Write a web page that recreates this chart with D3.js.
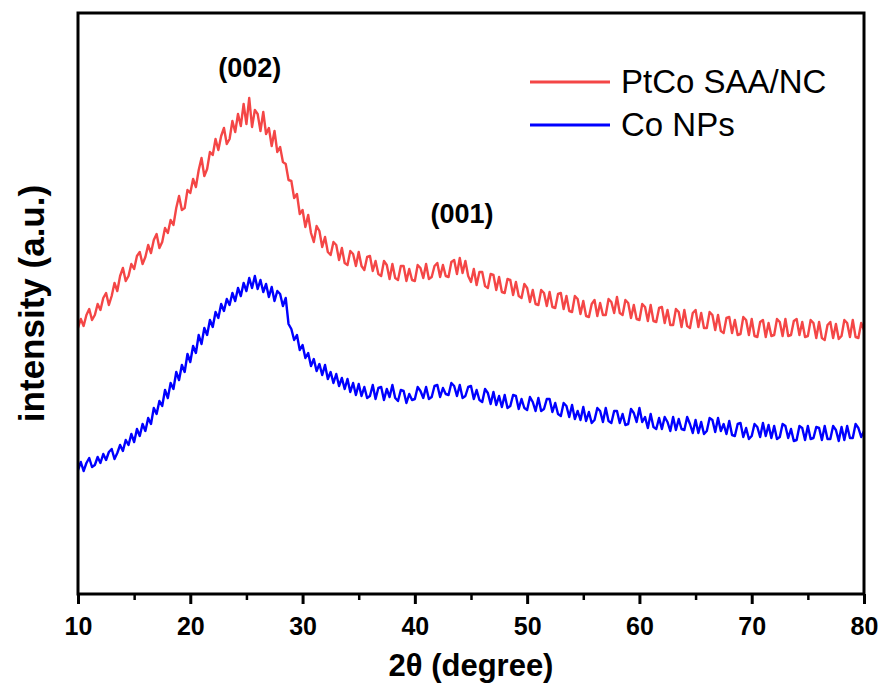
<!DOCTYPE html>
<html lang="en">
	<head>
		<meta charset="utf-8">
		<title>XRD PtCo SAA/NC vs Co NPs</title>
		<script type="text/javascript" src="https://cdn.jsdelivr.net/npm/d3@7"></script>
		<style type="text/css">
			body { margin: 0; background: #fff; }
			svg text { font-family: Arial, "Liberation Sans", sans-serif; fill: #000; }
		</style>
	</head>
	<body>
		<script type="text/javascript">

			//Width and height
			var w = 885;
			var h = 693;

			//Scan grid: 2theta from 10 to 80, step 0.25
			var thetaStart = 10;
			var thetaStep = 0.25;

			//Intensities (a.u.), 4 points per degree
			var ptcoValues = [
				266, 275, 268, 279,  285, 274, 279, 290,  284, 296, 301, 289,  298, 311, 303, 318,
				326, 313, 318, 330,  325, 338, 342, 330,  337, 349, 341, 354,  360, 346, 352, 366,
				361, 374, 369, 386,  398, 384, 386, 404,  401, 415, 407, 424,  436, 418, 425, 442,
				439, 455, 444, 458,  466, 450, 455, 473,  462, 480, 468, 490,  470, 496, 467, 484,
				480, 463, 482, 460,  466, 448, 463, 442,  447, 432, 430, 414,  413, 396, 400, 380,
				384, 367, 379, 361,  352, 368, 363, 347,  357, 342, 339, 352,  349, 334, 346, 331,
				329, 343, 340, 328,  342, 328, 324, 337,  338, 323, 333, 320,  318, 333, 329, 315,
				330, 316, 314, 328,  328, 313, 325, 314,  313, 329, 326, 316,  330, 315, 317, 328,
				331, 317, 329, 318,  317, 332, 334, 320,  336, 321, 333, 318,  312, 325, 309, 322,
				322, 308, 306, 320,  319, 304, 317, 302,  301, 315, 314, 299,  312, 298, 296, 310,
				306, 292, 304, 290,  289, 304, 301, 288,  302, 287, 286, 300,  301, 285, 298, 283,
				282, 298, 295, 280,  293, 278, 277, 290,  294, 278, 291, 279,  279, 295, 292, 281,
				297, 281, 279, 294,  291, 276, 289, 275,  274, 290, 287, 273,  289, 273, 272, 286,
				287, 271, 284, 269,  269, 285, 282, 267,  284, 268, 266, 281,  284, 267, 281, 266,
				266, 282, 279, 264,  279, 263, 261, 276,  277, 261, 274, 259,  260, 277, 274, 259,
				275, 258, 257, 272,  274, 257, 271, 258,  259, 275, 272, 258,  275, 258, 259, 273,
				275, 259, 272, 257,  258, 274, 271, 256,  272, 256, 254, 269,  272, 256, 270, 255,
				258, 274, 271, 257,  274, 257, 256, 271,  264
			];

			var coValues = [
				124, 132, 123, 131,  136, 127, 129, 137,  131, 140, 134, 142,  145, 135, 141, 149,
				143, 154, 149, 160,  152, 165, 158, 170,  163, 176, 170, 186,  180, 193, 188, 204,
				196, 211, 205, 222,  214, 229, 222, 240,  232, 248, 241, 259,  250, 266, 259, 274,
				267, 282, 276, 290,  283, 295, 289, 301,  293, 306, 298, 311,  303, 316, 306, 318,
				305, 314, 302, 310,  297, 307, 293, 303,  300, 288, 296, 270,  265, 254, 259, 244,
				249, 236, 241, 228,  235, 223, 230, 219,  229, 215, 222, 211,  220, 208, 216, 205,
				215, 202, 211, 199,  210, 198, 207, 196,  198, 209, 195, 206,  207, 194, 205, 197,
				209, 196, 193, 204,  203, 191, 200, 194,  195, 207, 203, 196,  207, 195, 197, 208,
				209, 197, 206, 200,  199, 211, 208, 198,  209, 196, 198, 207,  208, 195, 204, 194,
				192, 205, 201, 190,  202, 189, 198, 187,  199, 186, 188, 199,  198, 185, 195, 186,
				184, 197, 192, 183,  196, 183, 185, 195,  195, 182, 191, 180,  178, 191, 188, 177,
				189, 175, 183, 174,  187, 173, 182, 171,  174, 186, 183, 172,  186, 173, 171, 183,
				183, 171, 180, 169,  170, 185, 181, 172,  186, 172, 177, 166,  180, 167, 165, 176,
				165, 177, 172, 163,  177, 164, 175, 165,  164, 177, 170, 161,  174, 161, 172, 160,
				163, 176, 174, 162,  176, 163, 170, 160,  173, 159, 158, 170,  171, 157, 166, 155,
				158, 170, 167, 157,  171, 158, 169, 156,  168, 155, 157, 170,  168, 156, 165, 153,
				154, 168, 166, 154,  168, 155, 156, 167,  166, 154, 168, 155,  155, 168, 164, 153,
				167, 154, 168, 156,  156, 170, 166, 157,  163
			];

			var seriesNames = ["PtCo SAA/NC", "Co NPs"];
			var seriesColors = ["#f44646", "#0000ff"];

			var xTicks = [10, 20, 30, 40, 50, 60, 70, 80];
			var xMinorTicks = [15, 25, 35, 45, 55, 65, 75];

			//Peak labels
			var peakLabels = ["(002)", "(001)"];
			var peakTheta = [25.3, 44.2];
			var peakIntensity = [517, 371];

			//Plot box (names avoid window.top)
			var plotLeft = 78, plotRight = 864, plotTop = 13, plotBottom = 594;

			var xScale = d3.scaleLinear()
							.domain([10, 80])
							.range([plotLeft, plotRight]);

			var yScale = d3.scaleLinear()
							.domain([0, 581])
							.range([plotBottom, plotTop]);

			//Create SVG element
			var svg = d3.select("body")
						.append("svg")
						.attr("width", w)
						.attr("height", h);

			var line = d3.line()
						.x(function(d, i) { return xScale(thetaStart + i * thetaStep); })
						.y(function(d) { return yScale(d); });

			//Curves
			[ptcoValues, coValues].forEach(function(vals, k) {
				svg.append("path")
				   .datum(vals)
				   .attr("d", line)
				   .attr("fill", "none")
				   .attr("stroke", seriesColors[k])
				   .attr("stroke-width", 2.4)
				   .attr("stroke-linejoin", "round");
			});

			//Minor ticks
			svg.append("g")
			   .attr("transform", "translate(0," + plotBottom + ")")
			   .call(d3.axisBottom(xScale).tickValues(xMinorTicks).tickSize(6).tickSizeOuter(0).tickFormat(""))
			   .call(function(g) {
			   		g.select(".domain").remove();
			   		g.selectAll("line").attr("stroke-width", 2.5);
			   });

			//Major ticks + labels
			svg.append("g")
			   .attr("transform", "translate(0," + plotBottom + ")")
			   .call(d3.axisBottom(xScale).tickValues(xTicks).tickSize(10).tickSizeOuter(0).tickPadding(13))
			   .call(function(g) {
			   		g.select(".domain").remove();
			   		g.selectAll("line").attr("stroke-width", 3);
			   		g.selectAll("text")
			   		 .style("font-size", "25px")
			   		 .style("font-weight", "bold")
			   		 .attr("fill", "#000");
			   });

			//Frame
			svg.append("rect")
			   .attr("x", plotLeft)
			   .attr("y", plotTop)
			   .attr("width", plotRight - plotLeft)
			   .attr("height", plotBottom - plotTop)
			   .attr("fill", "none")
			   .attr("stroke", "#000")
			   .attr("stroke-width", 3);

			//Axis titles
			svg.append("text")
			   .attr("x", (plotLeft + plotRight) / 2)
			   .attr("y", 676)
			   .attr("text-anchor", "middle")
			   .attr("font-size", "31px")
			   .attr("font-weight", "bold")
			   .text("2\u03b8 (degree)");

			svg.append("text")
			   .attr("transform", "translate(44," + ((plotTop + plotBottom) / 2) + ") rotate(-90)")
			   .attr("text-anchor", "middle")
			   .attr("font-size", "35px")
			   .attr("font-weight", "bold")
			   .text("intensity (a.u.)");

			//Peak labels
			svg.selectAll("text.peak")
			   .data(peakLabels)
			   .enter()
			   .append("text")
			   .attr("class", "peak")
			   .attr("x", function(d, i) { return xScale(peakTheta[i]); })
			   .attr("y", function(d, i) { return yScale(peakIntensity[i]); })
			   .attr("text-anchor", "middle")
			   .attr("font-size", "27px")
			   .attr("font-weight", "bold")
			   .text(function(d) { return d; });

			//Legend
			var legend = svg.append("g");
			seriesNames.forEach(function(name, k) {
				var ly = 82 + k * 43;
				legend.append("line")
					  .attr("x1", 530).attr("x2", 610)
					  .attr("y1", ly).attr("y2", ly)
					  .attr("stroke", seriesColors[k])
					  .attr("stroke-width", 3);
				legend.append("text")
					  .attr("x", 621)
					  .attr("y", ly + 11)
					  .attr("font-size", "33px")
					  .text(name);
			});

		</script>
	</body>
</html>
